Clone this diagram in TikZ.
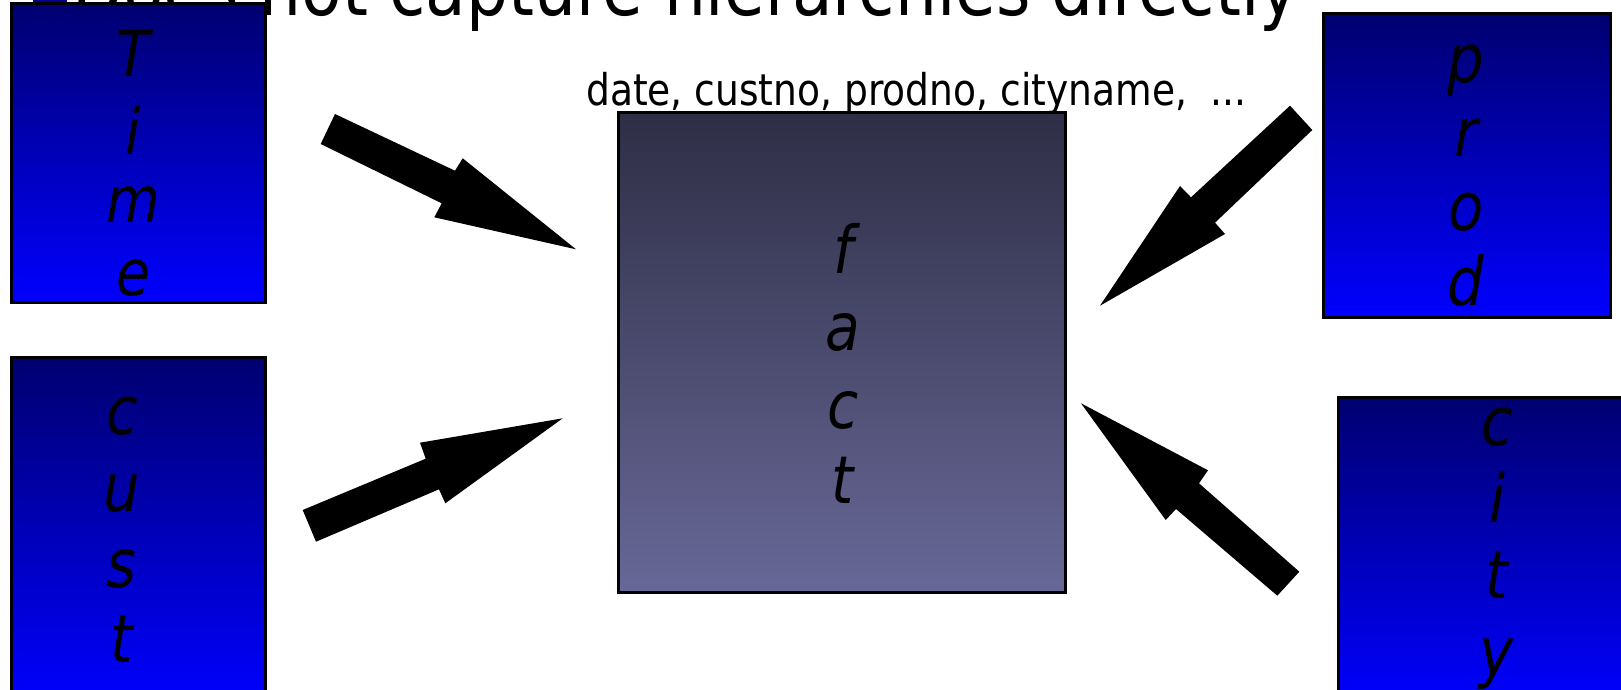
\documentclass[tikz,border=0pt]{standalone}
\usepackage{fontspec}
\newfontfamily\tah{DejaVu Sans}[FakeStretch=0.86]
\definecolor{dimtop}{RGB}{0,0,112}
\definecolor{dimbot}{RGB}{0,0,255}
\definecolor{facttop}{RGB}{46,46,70}
\definecolor{factbot}{RGB}{104,104,152}
\definecolor{bulletc}{RGB}{0,0,140}
\begin{document}
\begin{tikzpicture}[x=1pt,y=-1pt,
  dimbox/.style={draw=black,line width=3pt,top color=dimtop,bottom color=dimbot,inner sep=0pt},
  factbox/.style={draw=black,line width=3pt,top color=facttop,bottom color=factbot,inner sep=0pt},
  letter/.style={inner sep=0pt,anchor=base,font=\tah\itshape\fontsize{#1}{#1}\selectfont},
  blockarrow/.style={fill=black}]
\useasboundingbox (0,0) rectangle (1621,690);
\clip (0,0) rectangle (1621,690);
% partially visible title and bullet
\fill[bulletc] (33,-40) rectangle (67,10);
\node[anchor=base west,inner sep=0pt,font=\tah\fontsize{77}{90}\selectfont] (title) at (72,16) {Does not capture hierarchies directly};
% boxes
\node[dimbox,minimum width=254pt,minimum height=298pt] (time) at (138,153) {};
\node[dimbox,minimum width=254pt,minimum height=348pt] (cust) at (138,531) {};
\node[dimbox,minimum width=287pt,minimum height=303pt] (prod) at (1466.5,165.5) {};
\node[dimbox,minimum width=324pt,minimum height=308pt] (city) at (1500,551) {};
\node[factbox,minimum width=447pt,minimum height=479pt] (fact) at (841.5,352.5) {};
% stacked letters
\node[letter=64] (t1) at (133,77) {T};
\node[letter=64] (t2) at (133,154) {i};
\node[letter=64] (t3) at (133,222) {m};
\node[letter=64] (t4) at (133,295) {e};
\node[letter=67] (c1) at (122,434) {c};
\node[letter=67] (c2) at (122,511) {u};
\node[letter=67] (c3) at (122,587) {s};
\node[letter=67] (c4) at (122,662) {t};
\node[letter=67] (p1) at (1466,83) {p};
\node[letter=67] (p2) at (1466,156) {r};
\node[letter=67] (p3) at (1466,230) {o};
\node[letter=67] (p4) at (1466,305) {d};
\node[letter=67] (y1) at (1497,445) {c};
\node[letter=67] (y2) at (1497,522) {i};
\node[letter=67] (y3) at (1497,598) {t};
\node[letter=67] (y4) at (1497,675) {y};
\node[letter=66] (f1) at (843,273) {f};
\node[letter=66] (f2) at (843,350) {a};
\node[letter=66] (f3) at (843,428) {c};
\node[letter=66] (f4) at (843,503) {t};
% attribute list
\node[anchor=base west,inner sep=0pt,font=\tah\fontsize{43.7}{50}\selectfont] (attrs) at (586,106) {date, custno, prodno, cityname,\ \ ...};
% block arrows
\fill[blockarrow] (335,114) -- (455,170.7) -- (462.7,158.3) -- (576,249.3) -- (434.3,217.3) -- (441.7,203.3) -- (320.7,144) -- cycle;
\fill[blockarrow] (316,541.7) -- (302.7,510) -- (425.7,458.7) -- (420,442.7) -- (562.7,418.3) -- (445.3,503.3) -- (439,489.3) -- cycle;
\fill[blockarrow] (1290,105.7) -- (1312.3,130) -- (1215,222.7) -- (1225,234) -- (1100,305.7) -- (1180,186) -- (1191,197.3) -- cycle;
\fill[blockarrow] (1081,403.3) -- (1208,470.3) -- (1199,483.3) -- (1299.3,571.7) -- (1277.3,595.7) -- (1176,509) -- (1165.7,520) -- cycle;
\end{tikzpicture}
\end{document}
